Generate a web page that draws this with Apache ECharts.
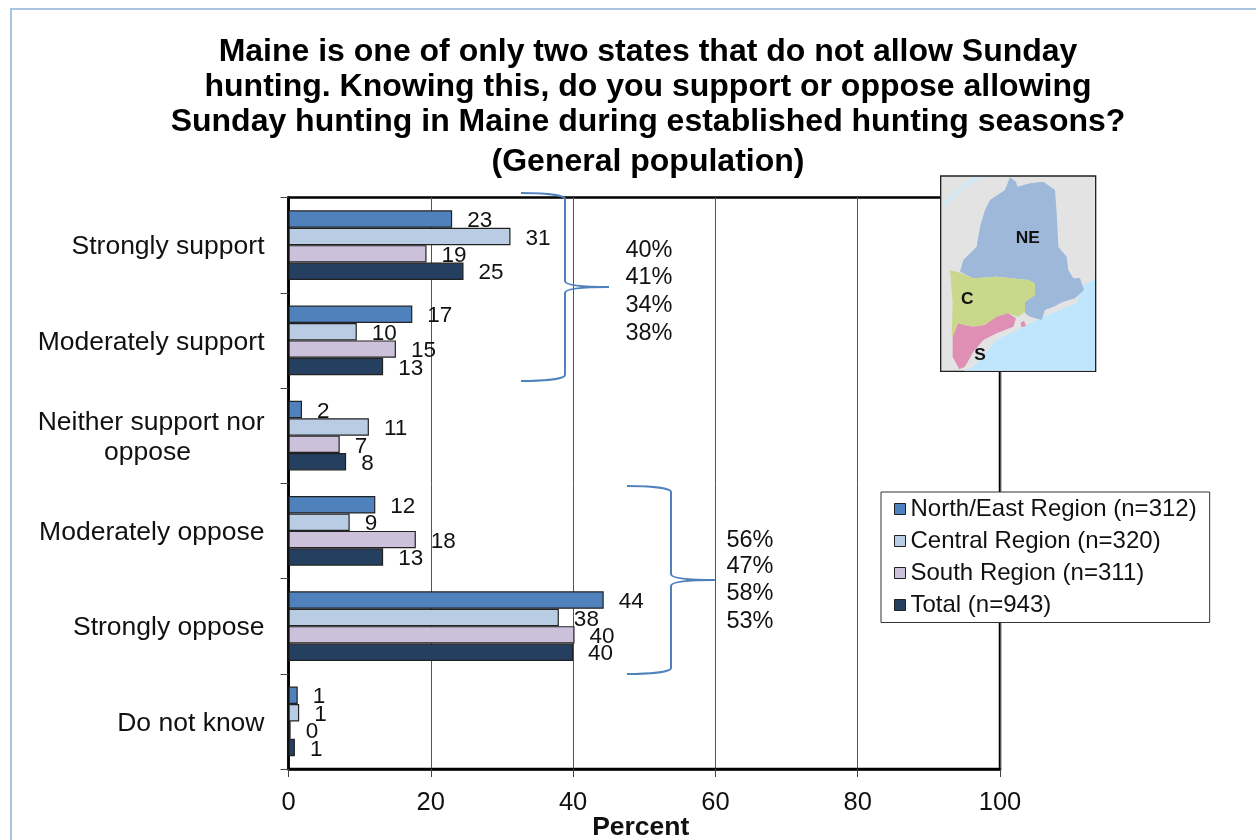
<!DOCTYPE html>
<html>
<head>
<meta charset="utf-8">
<style>html,body{margin:0;padding:0;background:#fff}#c{width:1256px;height:840px}</style>
<script src="https://cdn.jsdelivr.net/npm/echarts@6/dist/echarts.min.js"></script>
</head>
<body>
<div id="c"></div>
<script>
const categories = ['Strongly support','Moderately support','Neither support nor\noppose','Moderately oppose','Strongly oppose','Do not know'];
const northEast = [23.0,17.4,1.9,12.2,44.3,1.3];
const central   = [31.2,9.6,11.3,8.6,38.0,1.5];
const south     = [19.4,15.1,7.2,17.9,40.2,0.3];
const total     = [24.6,13.3,8.1,13.3,40.0,0.9];
const northEastLabels = [23,17,2,12,44,1];
const centralLabels   = [31,10,11,9,38,1];
const southLabels     = [19,15,7,18,40,0];
const totalLabels     = [25,13,8,13,40,1];
const seriesNames = ['North/East Region (n=312)','Central Region (n=320)','South Region (n=311)','Total (n=943)'];
const supportTotals = ['40%','41%','34%','38%'];
const opposeTotals  = ['56%','47%','58%','53%'];
const titleLines = ['Maine is one of only two states that do not allow Sunday','hunting. Knowing this, do you support or oppose allowing','Sunday hunting in Maine during established hunting seasons?','(General population)'];

const FONT = '"Liberation Sans", Arial, sans-serif';
const chart = echarts.init(document.getElementById('c'), null, {renderer:'canvas'});

function barSeries(name, data, labels, color, border){
  return {
    name, type:'bar', data, barWidth:17.4, barGap:'0%',
    itemStyle:{color, borderColor:border, borderWidth:1.2},
    label:{show:true, position:'right', distance:15, offset:[0,2], color:'#111', fontFamily:FONT, fontSize:22.5,
      formatter:p=>String(labels[p.dataIndex])},
    z:3
  };
}

const poly = (points, fill, z) => ({type:'polygon', z:z||1, shape:{points}, style:{fill}});
const mapGroup = {
  type:'group', x:930, y:170, scaleX:1/3, scaleY:1/3, z:20,
  children:[
    {type:'rect', shape:{x:32,y:18,width:465,height:586}, style:{fill:'#e3e3e3',stroke:'#222',lineWidth:4}, z:1},
    poly([[40,115],[110,50],[165,22],[125,22],[40,95]],'#d4e8f4',2),
    poly([[495,328],[460,345],[440,400],[340,440],[280,470],[200,510],[130,590],[100,602],[495,602]],'#bfe6fd',2),
    poly([[240,22],[258,35],[262,50],[300,40],[340,35],[375,60],[380,130],[385,230],[410,260],[415,300],[430,325],[450,325],[462,360],[435,385],[400,395],[370,410],[345,420],[335,450],[300,440],[285,430],[285,395],[315,375],[315,340],[295,330],[200,320],[130,325],[90,305],[100,270],[140,230],[150,170],[165,120],[180,90],[225,60]],'#9db8d9',3),
    poly([[60,300],[90,308],[130,325],[200,320],[295,330],[315,340],[315,375],[285,395],[285,425],[265,440],[235,430],[200,445],[165,465],[130,470],[100,465],[75,500],[65,500],[68,400]],'#c9d88a',3),
    poly([[68,500],[85,460],[100,465],[130,470],[165,465],[200,440],[235,430],[258,445],[250,470],[200,490],[160,510],[130,545],[105,590],[88,598],[68,560]],'#e08fb4',3),
    poly([[272,458],[282,452],[288,468],[274,472]],'#e08fb4',3),
    {type:'text', z:5, x:293, y:205, style:{text:'NE',fill:'#111',font:'bold 52px '+FONT,textAlign:'center',textVerticalAlign:'middle'}},
    {type:'text', z:5, x:112, y:387, style:{text:'C',fill:'#111',font:'bold 52px '+FONT,textAlign:'center',textVerticalAlign:'middle'}},
    {type:'text', z:5, x:150, y:557, style:{text:'S',fill:'#111',font:'bold 52px '+FONT,textAlign:'center',textVerticalAlign:'middle'}}
  ]
};
const stackText = (items, x, ys) => items.map((t,i)=>({type:'text', z:15, x, y:ys[i],
  style:{text:t,fill:'#111',font:'23.5px '+FONT,textAlign:'center',textVerticalAlign:'middle'}}));
const braceStyle = {fill:'none',stroke:'#4f81bd',lineWidth:2};
const curve = (x1,y1,cx1,cy1,cx2,cy2,x2,y2) => ({type:'bezierCurve', z:12, shape:{x1,y1,cpx1:cx1,cpy1:cy1,cpx2:cx2,cpy2:cy2,x2,y2}, style:braceStyle});
const seg = (x1,y1,x2,y2) => ({type:'line', z:12, shape:{x1,y1,x2,y2}, style:braceStyle});
// Brace: arms open to the left at xOpen, spine at xSpine, tip at xTip
const brace = (xOpen,xSpine,xTip,yTop,yMid,yBot) => [
  curve(xOpen,yTop, xOpen+22,yTop, xSpine,yTop+2, xSpine,yTop+6),
  seg(xSpine,yTop+6,xSpine,yMid-6),
  curve(xSpine,yMid-6, xSpine,yMid-2, xSpine+16,yMid, xTip,yMid),
  curve(xSpine,yMid+6, xSpine,yMid+2, xSpine+16,yMid, xTip,yMid),
  seg(xSpine,yMid+6,xSpine,yBot-6),
  curve(xSpine,yBot-6, xSpine,yBot-2, xOpen+22,yBot, xOpen,yBot)
];
const titleYs = [52,87,122,162];

chart.setOption({
  animation:false,
  backgroundColor:'#fff',
  textStyle:{fontFamily:FONT},
  grid:{left:288.5, top:197.5, width:711.5, height:571.5, show:true, outerBoundsMode:'none', containLabel:false, borderColor:'#000', borderWidth:2.5, backgroundColor:'transparent'},
  legend:{
    orient:'vertical', left:881, top:492, itemWidth:11, itemHeight:11, itemGap:8,
    padding:[5,13,5.5,13], backgroundColor:'#fff', borderColor:'#333', borderWidth:1, z:18,
    itemStyle:{borderWidth:1},
    textStyle:{fontFamily:FONT,fontSize:24,color:'#111'},
    data:seriesNames, icon:'rect'
  },
  xAxis:{
    type:'value', min:0, max:100, interval:20,
    axisLine:{show:true, lineStyle:{color:'#000',width:2.5}},
    axisTick:{show:true, length:8, lineStyle:{color:'#444',width:1}},
    axisLabel:{fontFamily:FONT,fontSize:25.5,color:'#111',margin:21},
    splitLine:{show:true,lineStyle:{color:'#555',width:1}},
    name:'Percent', nameLocation:'middle', nameGap:45, nameMoveOverlap:false,
    nameTextStyle:{fontFamily:FONT,fontSize:26.5,fontWeight:'bold',color:'#111',padding:[0,7,0,0]}
  },
  yAxis:{
    type:'category', inverse:true, data:categories,
    axisLine:{show:true,lineStyle:{color:'#000',width:2.5}},
    axisTick:{show:true,length:8,alignWithLabel:false,lineStyle:{color:'#444',width:1}},
    axisLabel:{fontFamily:FONT,fontSize:26.5,color:'#111',margin:24,align:'right',
      rich:{t:{fontFamily:FONT,fontSize:26.5,color:'#111',lineHeight:30,padding:[4,0,0,0]}},
      formatter:v=>{
        const parts=v.split('\n');
        return parts.map((s,i)=>'{t|'+s+(i>0?'\u00a0'.repeat(10):'')+'}').join('\n');
      }},
    splitLine:{show:false}
  },
  series:[
    barSeries(seriesNames[0],northEast,northEastLabels,'#4f81bd','#222'),
    barSeries(seriesNames[1],central,centralLabels,'#b8cce4','#222'),
    barSeries(seriesNames[2],south,southLabels,'#ccc1da','#222'),
    barSeries(seriesNames[3],total,totalLabels,'#243f60','#222')
  ],
  graphic:{elements:[
    {type:'polyline', z:0, shape:{points:[[11,840],[11,9],[1256,9]]}, style:{fill:'none',stroke:'#a9c4e0',lineWidth:2}},
    ...titleLines.map((t,i)=>({type:'text', z:15, x:648, y:titleYs[i],
      style:{text:t,fill:'#000',font:'bold 32px '+FONT,textAlign:'center',textVerticalAlign:'middle'}})),
    ...brace(521,565,609,193,287,381),
    ...brace(627,671,715,486,580,674),
    ...stackText(supportTotals,649,[251,278,306,334]),
    ...stackText(opposeTotals,750,[541,567,594,622]),
    mapGroup
  ]}
});
</script>
</body>
</html>
